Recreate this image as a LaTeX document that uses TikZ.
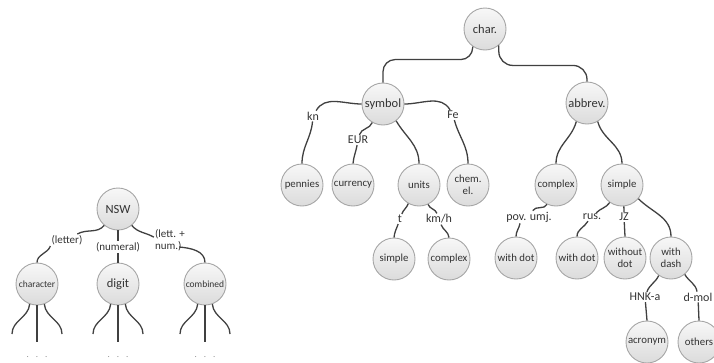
\documentclass[tikz,border=0pt]{standalone}
\usepackage{fontspec}
\setmainfont{Carlito}
\begin{document}
\begin{tikzpicture}[x=1pt,y=1pt,
  nd/.style={circle, draw=black!35, line width=0.9pt, top color=black!3, bottom color=black!14,
    minimum size=42pt, inner sep=0pt, text=black!80, align=center,
    font=\fontsize{10.8}{12.5}\selectfont},
  bignd/.style={nd, font=\fontsize{12.5}{14}\selectfont},
  smallnd/.style={nd, font=\fontsize{9.5}{11}\selectfont},
  lab/.style={inner sep=1pt, text=black!80, font=\fontsize{12}{13}\selectfont},
  llab/.style={lab, font=\fontsize{11}{12}\selectfont},
  conn/.style={draw=black!75, line width=1.3pt},
  dotsl/.style={inner sep=0pt, text=black!45, font=\fontsize{9}{10}\selectfont}
]
\useasboundingbox (0,0) rectangle (714,-362);

% right tree
\node[bignd] (char) at (485,-29) {char.};
\node[bignd] (symbol) at (383,-104) {symbol};
\node[bignd] (abbrev) at (587,-103) {abbrev.};
\node[nd] (pennies) at (302,-185) {pennies};
\node[nd] (currency) at (353,-185) {currency};
\node[nd] (units) at (419,-185) {units};
\node[nd] (chem) at (468,-185) {chem.\\el.};
\node[nd] (usimple) at (394,-259) {simple};
\node[nd] (ucomplex) at (449,-259) {complex};
\node[nd] (acomplex) at (556,-185) {complex};
\node[nd] (asimple) at (622,-185) {simple};
\node[nd] (dot1) at (516,-258) {with dot};
\node[nd] (dot2) at (577,-258) {with dot};
\node[nd] (nodot) at (625,-258) {without\\dot};
\node[nd] (dash) at (671,-258) {with\\dash};
\node[nd] (acronym) at (647,-342) {acronym};
\node[nd] (others) at (699,-342) {others};

\node[lab] (kn) at (313,-116) {kn};
\node[lab] (eur) at (358,-140) {EUR};
\node[lab] (fe) at (453,-115) {Fe};
\node[lab] (t) at (400,-219) {t};
\node[lab] (kmh) at (439,-219) {km/h};
\node[lab] (pov) at (529,-217) {pov. umj.};
\node[lab] (rus) at (592,-217) {rus.};
\node[lab] (jz) at (624,-217) {JZ};
\node[lab] (hnk) at (645,-297) {HNK-a};
\node[lab] (dmol) at (698,-297) {d-mol};

\draw[conn, rounded corners=12pt] (char.235) -- ++(0,-13) -| (symbol.north);
\draw[conn, rounded corners=14pt] (char.-50) -- ++(0,-20) -| (abbrev.north);

\draw[conn] (symbol.west) to[out=180,in=60] (kn);
\draw[conn] (kn) to[out=-95,in=90] (pennies.north);
\draw[conn] (symbol.240) to[out=-110,in=75] (eur);
\draw[conn] (eur) to[out=-100,in=85] (currency.north);
\draw[conn] (symbol.-52) to[out=-60,in=90] (units.north);
\draw[conn] (symbol.east) to[out=0,in=120] (fe);
\draw[conn] (fe) to[out=-75,in=90] (chem.north);

\draw[conn] (units.240) to[out=-110,in=70] (t);
\draw[conn] (t) to[out=-110,in=85] (usimple.north);
\draw[conn] (units.-65) to[out=-70,in=110] (kmh);
\draw[conn] (kmh) to[out=-70,in=95] (ucomplex.north);

\draw[conn] (abbrev.240) to[out=-105,in=90] (acomplex.north);
\draw[conn] (abbrev.-60) to[out=-75,in=90] (asimple.north);

\draw[conn] (acomplex.245) to[out=-115,in=60] (pov);
\draw[conn] ([xshift=-9pt]pov.south) to[out=-100,in=90] (dot1.north);
\draw[conn] (asimple.235) to[out=-125,in=45] (rus);
\draw[conn] ([xshift=-4pt]rus.south) to[out=-120,in=90] (dot2.north);
\draw[conn] (asimple.-85) -- (jz);
\draw[conn] (jz) -- (nodot.north);
\draw[conn] (asimple.-40) to[out=-45,in=90] (dash.north);

\draw[conn] (dash.235) to[out=-115,in=70] (hnk);
\draw[conn] (hnk) -- (acronym.north);
\draw[conn] (dash.-50) to[out=-60,in=100] (dmol);
\draw[conn] (dmol) -- (others.north);

% left tree
\node[bignd] (nsw) at (118,-209) {NSW};
\node[smallnd] (character) at (37,-284) {character};
\node[bignd] (digit) at (118,-284) {digit};
\node[smallnd] (combined) at (205,-284) {combined};
\node[llab] (letter) at (67,-240) {(letter)};
\node[llab] (numeral) at (118,-247) {(numeral)};
\node[llab, align=left] (lettnum) at (170,-240) {(lett. +\\num.)};

\draw[conn] (nsw.230) to[out=-130,in=30] (letter);
\draw[conn] (letter.south west) to[out=-110,in=90] (character.north);
\draw[conn] (nsw.south) -- (numeral);
\draw[conn] (numeral) -- (digit.north);
\draw[conn] (nsw.-50) to[out=-50,in=150] (lettnum.170);
\draw[conn] ([xshift=-7pt,yshift=-7pt]lettnum.east) to[out=-5,in=90] (combined.north);

\foreach \n/\x in {character/37, digit/118, combined/205} {
  \coordinate (\n-l) at (\x-25,-334);
  \coordinate (\n-m) at (\x,-342);
  \coordinate (\n-r) at (\x+25,-334);
  \draw[conn] (\n.250) to[out=-95,in=90] (\n-l);
  \draw[conn] (\n.south) -- (\n-m);
  \draw[conn] (\n.-70) to[out=-85,in=90] (\n-r);
  \node[dotsl] (\n-dots) at (\x,-357) {.\hspace{7pt}.\hspace{7pt}.};
}
\end{tikzpicture}
\end{document}
